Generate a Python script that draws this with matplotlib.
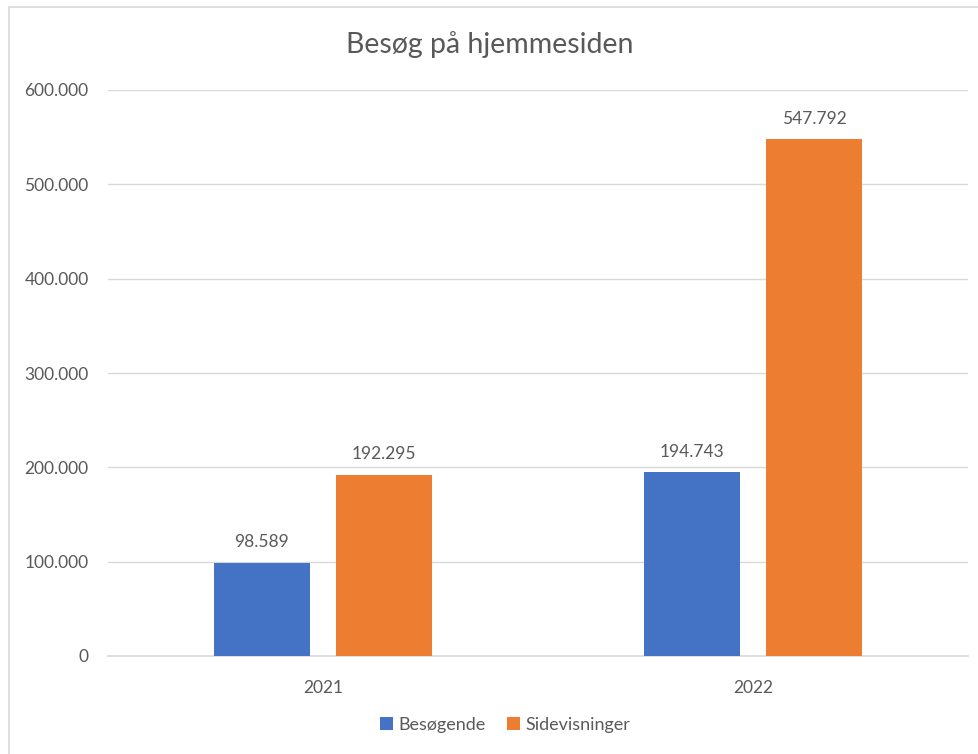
import matplotlib.pyplot as plt
import numpy as np
from matplotlib.patches import Rectangle

years = ['2021', '2022']
besogende = [98589, 194743]
sidevisninger = [192295, 547792]
series_names = ['Besøgende', 'Sidevisninger']
yticks = [0, 100000, 200000, 300000, 400000, 500000, 600000]

blue = '#4472C4'
orange = '#ED7D31'
grey = '#595959'
gridc = '#D9D9D9'


def fmt(v):
	return '{:,}'.format(int(v)).replace(',', '.')


plt.rcParams['font.family'] = ['Lato', 'DejaVu Sans']

fig = plt.figure(figsize=(9.79, 7.54), dpi=100)
fig.patches.append(Rectangle((9 / 979, -0.1), 1.2, (754 - 7) / 754 + 0.1, transform=fig.transFigure,
                             fill=False, edgecolor=gridc, linewidth=1.2))
ax = fig.add_axes([108 / 979, 98 / 754, (968 - 108) / 979, (656 - 90) / 754])

x = np.arange(len(years))
w = 0.223
off = 0.142
b1 = ax.bar(x - off, besogende, w, color=blue, label=series_names[0], zorder=3)
b2 = ax.bar(x + off, sidevisninger, w, color=orange, label=series_names[1], zorder=3)

for bars in (b1, b2):
	for r in bars:
		h = r.get_height()
		ax.annotate(fmt(h), (r.get_x() + r.get_width() / 2, h), xytext=(0, 9), textcoords='offset points',
		            ha='center', va='bottom', fontsize=12.5, color=grey)

ax.set_xlim(-0.5, 1.5)
ax.set_ylim(0, 600000)
ax.set_yticks(yticks)
ax.set_yticklabels([fmt(v) for v in yticks])
ax.set_xticks(x)
ax.set_xticklabels(years)
ax.tick_params(length=0, labelsize=12.5, labelcolor=grey)
ax.tick_params(axis='y', pad=14)
ax.tick_params(axis='x', pad=17)
ax.grid(axis='y', color=gridc, linewidth=1, zorder=0)
for s in ['top', 'right', 'left']:
	ax.spines[s].set_visible(False)
ax.spines['bottom'].set_color(gridc)
ax.spines['bottom'].set_linewidth(1.2)

fig.text(0.5, 1 - 45 / 754, 'Besøg på hjemmesiden', ha='center', va='center', fontsize=20.5, color=grey)

fig.legend(handles=[b1, b2], loc='center', bbox_to_anchor=(505 / 979, 1 - 725 / 754), ncol=2, frameon=False,
           fontsize=13, labelcolor=grey, handlelength=0.7, handleheight=0.7, handletextpad=0.3,
           columnspacing=1.2)

plt.savefig('out.png', dpi=100)
